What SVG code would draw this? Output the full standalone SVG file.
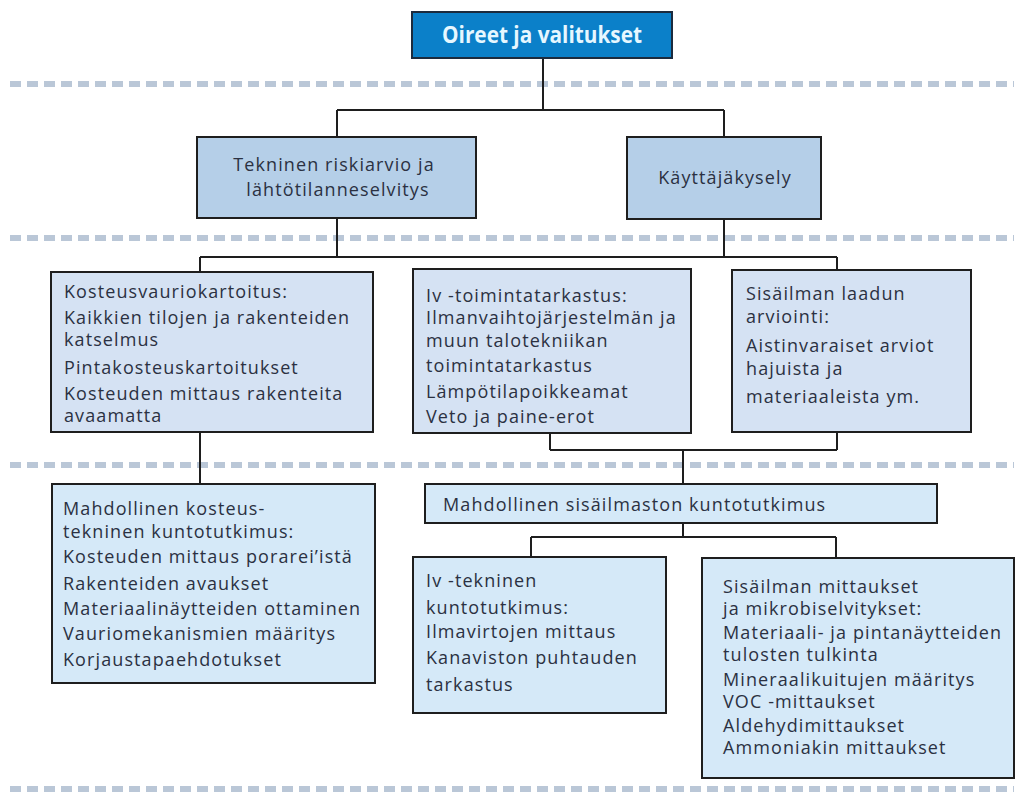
<svg xmlns="http://www.w3.org/2000/svg" width="1022" height="794" viewBox="0 0 1022 794">
<style>
.dash{stroke:#bac7d7;stroke-width:6;stroke-dasharray:11 6;fill:none}
.c{stroke:#1e1e1e;stroke-width:2;fill:none}
.b1{fill:#b5cfe8;stroke:#1e1e1e;stroke-width:2}
.b2{fill:#d5e2f3;stroke:#1e1e1e;stroke-width:2}
.b3{fill:#d5e9f8;stroke:#1e1e1e;stroke-width:2}
text{font-family:"Open Sans","Noto Sans",sans-serif;font-size:18px;letter-spacing:1.1px;fill:#2b3142}
.mid{text-anchor:middle}
.title{font-family:"Open Sans","Noto Sans",sans-serif;font-weight:bold;font-size:24px;letter-spacing:0;fill:#e6f7ff}
</style>
<rect width="1022" height="794" fill="#ffffff"/>
<g id="separators">
<line class="dash" x1="10" y1="84" x2="1014" y2="84"/>
<line class="dash" x1="10" y1="238" x2="1014" y2="238"/>
<line class="dash" x1="10" y1="465" x2="1014" y2="465"/>
<line class="dash" x1="10" y1="789" x2="1014" y2="789"/>
</g>
<g id="connectors">
<path class="c" d="M543 58V110M337 110H724M337 110V137M724 110V137"/>
<path class="c" d="M337 218V257M724 219V257M200 257H837M200 257V272M837 257V270"/>
<path class="c" d="M200 432V484"/>
<path class="c" d="M550 433V450M837 432V450M550 450H837M683 450V484"/>
<path class="c" d="M683 523V537M531 537H836M531 537V557M836 537V558"/>
</g>
<g id="n-title">
<rect x="412" y="12" width="260" height="46" fill="#0b80c9" stroke="#1b2b3e" stroke-width="2"/>
<text class="title mid" x="542" y="43" textLength="200" lengthAdjust="spacingAndGlyphs">Oireet ja valitukset</text>
</g>
<g id="n-tekninen">
<rect class="b1" x="197" y="137" width="279" height="81"/>
<text class="mid"><tspan x="334" y="171">Tekninen riskiarvio ja</tspan><tspan x="338" y="196">lähtötilanneselvitys</tspan></text>
</g>
<g id="n-kayttaja">
<rect class="b1" x="627" y="137" width="194" height="82"/>
<text class="mid" x="725" y="184">Käyttäjäkysely</text>
</g>
<g id="n-kosteus">
<rect class="b2" x="51" y="272" width="322" height="160"/>
<text><tspan x="64" y="298">Kosteusvauriokartoitus:</tspan><tspan x="64" y="324">Kaikkien tilojen ja rakenteiden</tspan><tspan x="64" y="346">katselmus</tspan><tspan x="64" y="374">Pintakosteuskartoitukset</tspan><tspan x="64" y="400">Kosteuden mittaus rakenteita</tspan><tspan x="64" y="422">avaamatta</tspan></text>
</g>
<g id="n-iv">
<rect class="b2" x="413" y="269" width="278" height="164"/>
<text><tspan x="426" y="302">Iv -toimintatarkastus:</tspan><tspan x="426" y="324">Ilmanvaihtojärjestelmän ja</tspan><tspan x="426" y="347">muun talotekniikan</tspan><tspan x="426" y="372">toimintatarkastus</tspan><tspan x="426" y="398">Lämpötilapoikkeamat</tspan><tspan x="426" y="423">Veto ja paine-erot</tspan></text>
</g>
<g id="n-laatu">
<rect class="b2" x="732" y="270" width="239" height="162"/>
<text><tspan x="746" y="300">Sisäilman laadun</tspan><tspan x="746" y="323">arviointi:</tspan><tspan x="746" y="352">Aistinvaraiset arviot</tspan><tspan x="746" y="375">hajuista ja</tspan><tspan x="746" y="403">materiaaleista ym.</tspan></text>
</g>
<g id="n-kosteustekninen">
<rect class="b3" x="52" y="484" width="323" height="199"/>
<text><tspan x="63" y="515">Mahdollinen kosteus-</tspan><tspan x="63" y="538">tekninen kuntotutkimus:</tspan><tspan x="63" y="563">Kosteuden mittaus porarei’istä</tspan><tspan x="63" y="590">Rakenteiden avaukset</tspan><tspan x="63" y="615">Materiaalinäytteiden ottaminen</tspan><tspan x="63" y="640">Vauriomekanismien määritys</tspan><tspan x="63" y="666">Korjaustapaehdotukset</tspan></text>
</g>
<g id="n-sisailmasto">
<rect class="b3" x="425" y="484" width="512" height="39"/>
<text x="443" y="511">Mahdollinen sisäilmaston kuntotutkimus</text>
</g>
<g id="n-ivtekninen">
<rect class="b3" x="413" y="557" width="253" height="156"/>
<text><tspan x="426" y="587">Iv -tekninen</tspan><tspan x="426" y="614">kuntotutkimus:</tspan><tspan x="426" y="638">Ilmavirtojen mittaus</tspan><tspan x="426" y="664">Kanaviston puhtauden</tspan><tspan x="426" y="691">tarkastus</tspan></text>
</g>
<g id="n-mittaukset">
<rect class="b3" x="702" y="558" width="312" height="220"/>
<text><tspan x="723" y="593">Sisäilman mittaukset</tspan><tspan x="723" y="615">ja mikrobiselvitykset:</tspan><tspan x="723" y="639">Materiaali- ja pintanäytteiden</tspan><tspan x="723" y="661">tulosten tulkinta</tspan><tspan x="723" y="686">Mineraalikuitujen määritys</tspan><tspan x="723" y="708">VOC -mittaukset</tspan><tspan x="723" y="732">Aldehydimittaukset</tspan><tspan x="723" y="754">Ammoniakin mittaukset</tspan></text>
</g>
</svg>
